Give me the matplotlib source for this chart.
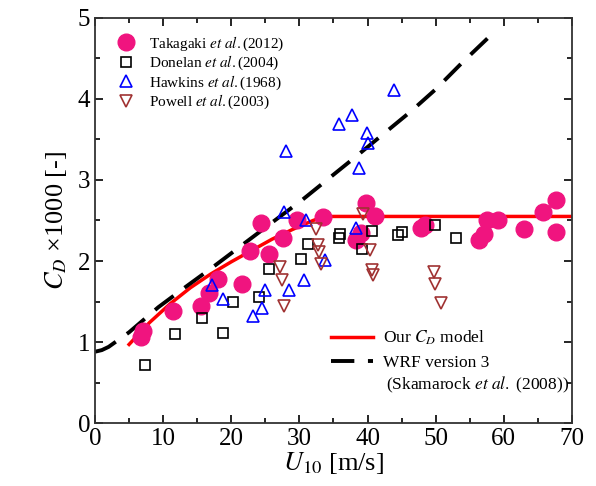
import matplotlib.pyplot as plt
from matplotlib.ticker import MultipleLocator
from matplotlib.lines import Line2D

plt.rcParams['font.family'] = ['Liberation Serif', 'DejaVu Serif']
plt.rcParams['mathtext.fontset'] = 'stix'

# Takagaki et al. (2012)
tak_u = [6.7, 7.1, 11.5, 15.5, 16.7, 18.0, 21.5, 22.8, 25.6, 24.4, 27.6, 29.6, 33.5,
         39.8, 41.1, 39.0, 38.3, 47.8, 48.5, 56.4, 57.1, 57.6, 59.2, 63.0, 65.8, 67.6, 67.7]
tak_cd = [1.06, 1.13, 1.38, 1.44, 1.60, 1.78, 1.72, 2.12, 2.09, 2.47, 2.29, 2.51, 2.54,
          2.71, 2.55, 2.35, 2.26, 2.41, 2.45, 2.26, 2.33, 2.50, 2.50, 2.39, 2.61, 2.75, 2.36]

# Donelan et al. (2004)
don_u = [7.4, 11.7, 15.7, 18.8, 20.2, 24.0, 25.5, 30.2, 31.2, 35.8, 36.0, 40.7, 39.2,
         44.5, 45.0, 49.9, 53.0]
don_cd = [0.72, 1.10, 1.30, 1.11, 1.50, 1.55, 1.90, 2.03, 2.21, 2.28, 2.33, 2.37, 2.15,
          2.32, 2.36, 2.45, 2.28]

# Hawkins et al. (1968)
haw_u = [17.1, 18.8, 23.2, 24.5, 24.9, 28.4, 30.7, 27.8, 30.9, 33.8, 28.0,
         43.9, 35.8, 37.7, 39.9, 40.0, 38.8, 38.3]
haw_cd = [1.70, 1.53, 1.32, 1.42, 1.64, 1.64, 1.76, 2.60, 2.51, 2.01, 3.36,
          4.11, 3.69, 3.80, 3.58, 3.46, 3.15, 2.41]

# Powell et al. (2003)
pow_u = [27.2, 27.5, 27.7, 32.5, 32.7, 32.9, 33.1, 39.4, 40.3, 40.7, 40.8, 49.7, 49.9, 50.8]
pow_cd = [1.93, 1.76, 1.45, 2.39, 2.20, 2.11, 1.96, 2.58, 2.13, 1.89, 1.83, 1.87, 1.71, 1.48]

# Our C_D model
model_u = [5, 8, 11, 14, 17, 20, 23, 26, 29, 32, 33.7, 70]
model_cd = [0.97, 1.24, 1.47, 1.67, 1.84, 1.99, 2.13, 2.27, 2.39, 2.50, 2.55, 2.55]

# WRF version 3
wrf_u = [0, 1, 2, 5, 9.3, 13.3, 17.7, 21.8, 25.9, 30.5, 38.3, 42.5, 46.4, 50, 53.9, 58.5]
wrf_cd = [0.88, 0.9, 0.94, 1.12, 1.43, 1.68, 1.95, 2.21, 2.47, 2.76, 3.29, 3.58, 3.85,
          4.12, 4.45, 4.82]

fig = plt.figure(figsize=(5.96, 4.86), dpi=100)
ax = fig.add_axes([0.1594, 0.1296, 0.8003, 0.8334])

ax.plot(model_u, model_cd, color='red', lw=2.5, zorder=2)
ax.plot(wrf_u, wrf_cd, color='black', lw=2.8, dashes=(6, 3.5), zorder=2)

h1, = ax.plot(tak_u, tak_cd, 'o', ms=12, color='#f0147f', mec='#f0147f', zorder=3, ls='none')
h2, = ax.plot(don_u, don_cd, 's', ms=7, mfc='none', mec='black', mew=1.2, zorder=4, ls='none')
h3, = ax.plot(haw_u, haw_cd, '^', ms=9, mfc='none', mec='blue', mew=1.2, zorder=4, ls='none')
h4, = ax.plot(pow_u, pow_cd, 'v', ms=9, mfc='none', mec='#a03232', mew=1.2, zorder=4, ls='none')

leg1 = ax.legend([h1, h2, h3, h4],
                 [r'Takagaki $\it{et\ al.}$(2012)', r'Donelan $\it{et\ al.}$(2004)',
                  r'Hawkins $\it{et\ al.}$(1968)', r'Powell $\it{et\ al.}$(2003)'],
                 loc='upper left', bbox_to_anchor=(0.02, 0.975), frameon=False,
                 fontsize=11, handletextpad=0.5, labelspacing=0.08, borderaxespad=0)
ax.add_artist(leg1)

l1 = Line2D([], [], color='red', lw=2.5)
l2 = Line2D([], [], color='black', lw=2.8, dashes=(6, 3.5))
ax.legend([l1, l2], [r'Our $C_D$ model', 'WRF version 3'],
          loc='upper left', bbox_to_anchor=(0.48, 0.25), frameon=False,
          fontsize=12.5, handlelength=2.4, handletextpad=0.6, labelspacing=0.45,
          borderaxespad=0)
ax.text(0.61, 0.095, r'(Skamarock $\it{et\ al.}$ (2008))', transform=ax.transAxes,
        fontsize=12.5, va='center', ha='left')

ax.set_xlim(0, 70)
ax.set_ylim(0, 5)
ax.xaxis.set_major_locator(MultipleLocator(10))
ax.xaxis.set_minor_locator(MultipleLocator(5))
ax.yaxis.set_major_locator(MultipleLocator(1))
ax.yaxis.set_minor_locator(MultipleLocator(0.5))
ax.tick_params(which='both', direction='in', top=True, right=True, labelsize=18, width=1.2)
ax.tick_params(which='major', length=6)
ax.tick_params(which='minor', length=3.5)
for s in ax.spines.values():
    s.set_linewidth(1.3)
    s.set_color('#333333')

ax.set_xlabel(r'$U_{10}$ [m/s]', fontsize=19, labelpad=0)
ax.set_ylabel(r'$C_D$ ×1000 [-]', fontsize=19, labelpad=6)

fig.savefig('out.png', dpi=100)
